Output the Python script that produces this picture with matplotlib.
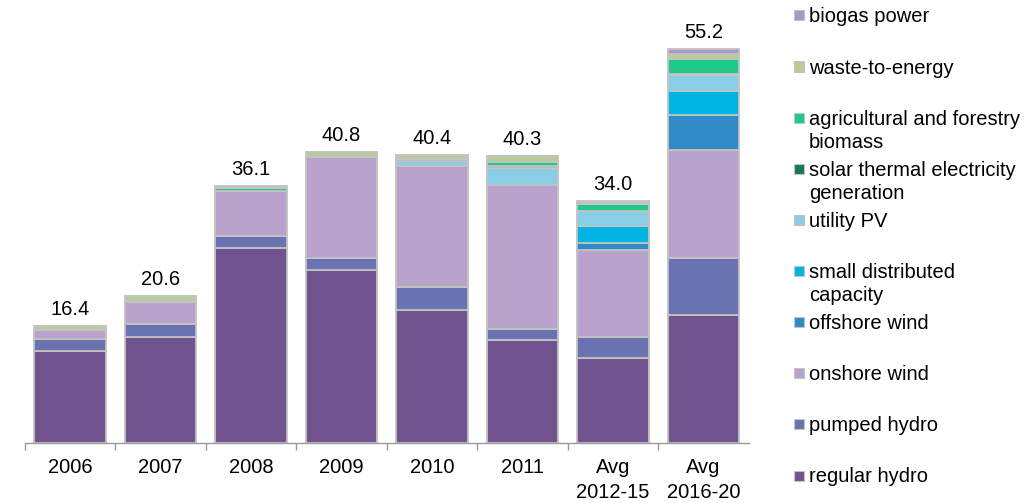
import numpy as np
import matplotlib.pyplot as plt
from matplotlib.patches import Rectangle

plt.rcParams['font.family'] = ['Liberation Sans', 'DejaVu Sans']

# categories and stacked values (GW)
cats = ['2006', '2007', '2008', '2009', '2010', '2011', 'Avg\n2012-15', 'Avg\n2016-20']
totals = [16.4, 20.6, 36.1, 40.8, 40.4, 40.3, 34.0, 55.2]

regular_hydro = [12.9, 14.9, 27.4, 24.3, 18.6, 14.5, 11.9, 17.9]
pumped_hydro = [1.7, 1.8, 1.6, 1.6, 3.3, 1.5, 3.0, 8.1]
onshore_wind = [1.2, 3.1, 6.4, 14.2, 17.0, 20.2, 12.2, 15.1]
offshore_wind = [0, 0, 0, 0, 0, 0, 1.0, 4.9]
small_distributed = [0, 0, 0, 0, 0, 0, 2.3, 3.4]
utility_pv = [0, 0, 0, 0, 0.6, 2.4, 2.2, 2.2]
solar_thermal = [0, 0, 0, 0, 0, 0.2, 0, 0.2]
agri_biomass = [0, 0, 0.3, 0, 0.4, 0.6, 0.9, 2.0]
waste_energy = [0.6, 0.8, 0.4, 0.7, 0.5, 0.9, 0.3, 0.8]
biogas = [0, 0, 0, 0, 0, 0, 0.2, 0.6]

series = [
    ('regular hydro', regular_hydro, '#71538f'),
    ('pumped hydro', pumped_hydro, '#6b72b2'),
    ('onshore wind', onshore_wind, '#b9a3cd'),
    ('offshore wind', offshore_wind, '#2f8ac6'),
    ('small distributed\ncapacity', small_distributed, '#00b5e2'),
    ('utility PV', utility_pv, '#89cde6'),
    ('solar thermal electricity\ngeneration', solar_thermal, '#157a5c'),
    ('agricultural and forestry\nbiomass', agri_biomass, '#1ec98a'),
    ('waste-to-energy', waste_energy, '#b8cc96'),
    ('biogas power', biogas, '#a899c6'),
]

FS = 14.5
W, H = 1024, 503
fig = plt.figure(figsize=(W / 100, H / 100), dpi=100)
ax = fig.add_axes([24.75 / W, (H - 443) / H, 724 / W, 443 / H])

x = np.arange(len(cats))
bottom = np.zeros(len(cats))
for name, vals, col in series:
    vals = np.array(vals, dtype=float)
    ax.bar(x, vals, 0.785, bottom=bottom, color=col, edgecolor='#c3c3c3',
           linewidth=1.3, zorder=2)
    bottom += vals

for xi, t in zip(x, totals):
    ax.annotate(f'{t:.1f}', (xi, t), xytext=(0, 5), textcoords='offset points',
                ha='center', va='bottom', fontsize=FS)

ax.set_xlim(-0.5, len(cats) - 0.5)
ax.set_ylim(0, 443 / 7.13)
ax.set_yticks([])
for s in ['top', 'right', 'left']:
    ax.spines[s].set_visible(False)
ax.spines['bottom'].set_color('#9a9a9a')
ax.spines['bottom'].set_linewidth(1.0)

ax.set_xticks(x)
ax.set_xticklabels(cats, fontsize=FS, linespacing=1.35)
ax.tick_params(axis='x', which='major', length=0, pad=11)
ax.set_xticks(np.arange(-0.5, len(cats) - 1, 1.0), minor=True)
ax.tick_params(axis='x', which='minor', length=5, width=1.0, color='#9a9a9a')

# legend drawn by hand, top to bottom; first line baseline ~7 px below slot centre
slot_y = [15, 66.5, 118, 169, 220, 271, 322, 373, 424, 475.5]
line_px = 23
for (name, vals, col), yc in zip(series[::-1], slot_y):
    fig.patches.append(Rectangle((794 / W, (H - yc - 5) / H), 10 / W, 10 / H,
                                 transform=fig.transFigure, facecolor=col,
                                 edgecolor='#c3c3c3', linewidth=0.8))
    for i, line in enumerate(name.split('\n')):
        fig.text(809 / W, (H - yc - 7 - i * line_px) / H, line, fontsize=FS,
                 ha='left', va='baseline')

fig.savefig('out.png', dpi=100)
